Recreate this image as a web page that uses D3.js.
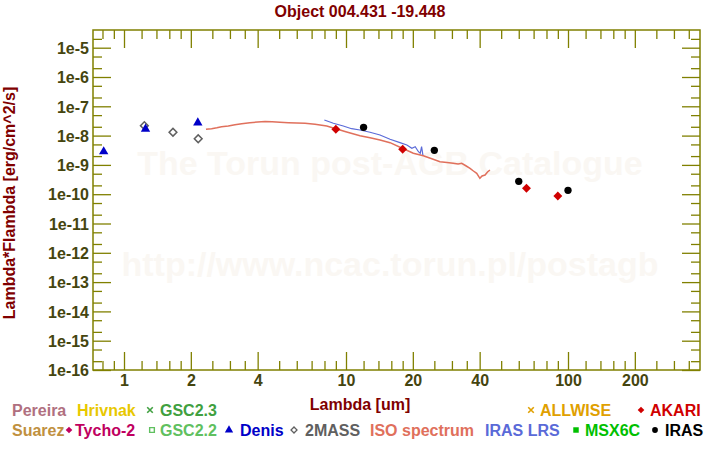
<!DOCTYPE html>
<html>
<head>
<meta charset="utf-8">
<script src="https://cdn.jsdelivr.net/npm/d3@7"></script>
<style>
  body { margin: 0; background: #fff; }
  text { font-family: "Liberation Sans", Arial, sans-serif; font-weight: bold; }
</style>
</head>
<body>
<div id="chart"></div>
<script>
// Data
// ==============================
var titleText = "Object 004.431 -19.448";

var xTickValues = [1, 2, 4, 10, 20, 40, 100, 200];
var xMinorMantissa = [1.2, 1.4, 1.6, 1.8, 2.5, 3, 3.5, 5, 6, 7, 8, 9];
var yTickValues = [1e-16, 1e-15, 1e-14, 1e-13, 1e-12, 1e-11, 1e-10, 1e-9, 1e-8, 1e-7, 1e-6, 1e-5];
var yTickLabels = ["1e-16", "1e-15", "1e-14", "1e-13", "1e-12", "1e-11", "1e-10", "1e-9", "1e-8", "1e-7", "1e-6", "1e-5"];
var yMinorMantissa = [2, 5];

// ISO spectrum (um, erg/cm^2/s)
var isoWave = [2.34, 2.48, 2.62, 2.75, 2.95, 3.16, 3.39, 3.69, 4.0, 4.32, 4.65, 5.04, 5.50, 6.54, 7.25, 8.19, 8.92, 10.07,
               11.56, 12.83, 14.23, 15.79, 17.82, 20.1, 22.3, 24.7, 26.5, 28.5, 30.4, 32.0, 33.2, 34.8, 36.2, 37.5, 38.8,
               40.1, 41.0, 42.3, 43.4, 44.5];
var isoFlux = [1.64e-8, 1.72e-8, 1.86e-8, 2.01e-8, 2.13e-8, 2.36e-8, 2.55e-8, 2.75e-8, 2.9e-8, 3.0e-8, 2.95e-8, 2.84e-8,
               2.75e-8, 2.63e-8, 2.43e-8, 2.13e-8, 1.75e-8, 1.33e-8, 9.93e-9, 8.48e-9, 7.08e-9, 5.73e-9, 3.78e-9, 2.49e-9,
               2.06e-9, 1.55e-9, 1.29e-9, 1.21e-9, 1.13e-9, 1.07e-9, 1.13e-9, 9.17e-10, 7.66e-10, 6.19e-10, 5.17e-10,
               3.49e-10, 4.18e-10, 4.52e-10, 5.72e-10, 6.70e-10];

// IRAS LRS spectrum
var lrsWave = [7.99, 8.77, 9.72, 10.6, 11.56, 12.83, 14.23, 15.79, 17.5, 18.8, 19.8, 20.5, 21.2, 21.6, 21.9, 22.2];
var lrsFlux = [3.40e-8, 2.63e-8, 2.13e-8, 1.72e-8, 1.55e-8, 1.30e-8, 1.05e-8, 7.48e-9, 5.73e-9, 4.78e-9, 3.69e-9,
               4.18e-9, 2.82e-9, 2.49e-9, 4.18e-9, 2.18e-9];

// photometry
var denisWave = [0.81, 1.25, 2.15];
var denisFlux = [2.85e-9, 1.68e-8, 2.75e-8];
var tmassWave = [1.235, 1.662, 2.159];
var tmassFlux = [2.18e-8, 1.30e-8, 7.83e-9];
var akariWave = [9, 18, 65, 90];
var akariFlux = [1.64e-8, 3.41e-9, 1.59e-10, 8.68e-11];
var irasWave = [12, 25, 60, 100];
var irasFlux = [1.92e-8, 3.15e-9, 2.75e-10, 1.36e-10];

// legend entries
var legendNames = ["Pereira", "Hrivnak", "GSC2.3", "ALLWISE", "AKARI",
                   "Suarez", "Tycho-2", "GSC2.2", "Denis", "2MASS", "ISO spectrum", "IRAS LRS", "MSX6C", "IRAS"];

// Layout
// ==============================
var svgWidth = 720, svgHeight = 450;
var plot = { left: 93, right: 700, top: 30, bottom: 370 };

var olive = "#808000";
var tickText = "#45450f";
var darkRed = "#800000";

var svg = d3.select("#chart").append("svg")
  .attr("width", svgWidth)
  .attr("height", svgHeight);

// scales: x(1) sits at 124px, one decade is 222px; y decade 29.3px with 1e-16 at the bottom
var xScale = d3.scaleLog()
  .domain([Math.pow(10, (plot.left - 124) / 222), Math.pow(10, (plot.right - 124) / 222)])
  .range([plot.left, plot.right]);
var yScale = d3.scaleLog()
  .domain([1e-16, Math.pow(10, -16 + (plot.bottom - plot.top) / 29.3)])
  .range([plot.bottom, plot.top]);

// watermark
svg.append("text")
  .attr("x", 390).attr("y", 175)
  .attr("text-anchor", "middle")
  .style("font-size", "34px")
  .style("fill", "#faf7f3")
  .text("The Torun post-AGB Catalogue");
svg.append("text")
  .attr("x", 390).attr("y", 276)
  .attr("text-anchor", "middle")
  .style("font-size", "34px")
  .style("fill", "#faf7f3")
  .text("http://www.ncac.torun.pl/postagb");

// minor tick values
var xDom = xScale.domain();
var xMinor = [];
[0.1, 1, 10, 100].forEach(function(dec) {
  xMinorMantissa.forEach(function(m) {
    var v = m * dec;
    if (v > xDom[0] && v < xDom[1]) xMinor.push(v);
  });
});
var yDom = yScale.domain();
var yMinor = [];
yTickValues.forEach(function(dec) {
  yMinorMantissa.forEach(function(m) {
    var v = m * dec;
    if (v > yDom[0] && v < yDom[1]) yMinor.push(v);
  });
});

// axes with inward ticks on all four sides
function addAxis(axis, tx, ty) {
  var g = svg.append("g")
    .attr("transform", "translate(" + tx + "," + ty + ")")
    .call(axis);
  g.select(".domain").remove();
  g.selectAll("line").attr("stroke", olive).attr("stroke-width", 1.3);
  g.selectAll("text")
    .style("font-size", "16px")
    .style("font-family", "'Liberation Sans', Arial, sans-serif")
    .style("font-weight", "bold")
    .attr("fill", tickText);
  return g;
}

addAxis(d3.axisBottom(xScale).tickValues(xTickValues).tickSizeInner(-18).tickSizeOuter(0)
  .tickPadding(5).tickFormat(d3.format("d")), 0, plot.bottom);
addAxis(d3.axisBottom(xScale).tickValues(xMinor).tickSizeInner(-9).tickSizeOuter(0).tickFormat(""), 0, plot.bottom);
addAxis(d3.axisTop(xScale).tickValues(xTickValues).tickSizeInner(-18).tickSizeOuter(0).tickFormat(""), 0, plot.top);
addAxis(d3.axisTop(xScale).tickValues(xMinor).tickSizeInner(-9).tickSizeOuter(0).tickFormat(""), 0, plot.top);

addAxis(d3.axisLeft(yScale).tickValues(yTickValues).tickSizeInner(-18).tickSizeOuter(0)
  .tickPadding(4).tickFormat(function(d, i) { return yTickLabels[i]; }), plot.left, 0)
  .selectAll("text").attr("dy", "0.36em");
addAxis(d3.axisLeft(yScale).tickValues(yMinor).tickSizeInner(-9).tickSizeOuter(0).tickFormat(""), plot.left, 0);
addAxis(d3.axisRight(yScale).tickValues(yTickValues).tickSizeInner(-18).tickSizeOuter(0).tickFormat(""), plot.right, 0);
addAxis(d3.axisRight(yScale).tickValues(yMinor).tickSizeInner(-9).tickSizeOuter(0).tickFormat(""), plot.right, 0);

// frame
svg.append("rect")
  .attr("x", plot.left).attr("y", plot.top)
  .attr("width", plot.right - plot.left).attr("height", plot.bottom - plot.top)
  .attr("fill", "none")
  .attr("stroke", olive)
  .attr("stroke-width", 1.5);

// spectra
var iso = isoWave.map(function(w, i) { return [w, isoFlux[i]]; });
var lrs = lrsWave.map(function(w, i) { return [w, lrsFlux[i]]; });
var line = d3.line()
  .x(function(d) { return xScale(d[0]); })
  .y(function(d) { return yScale(d[1]); });

svg.append("path").datum(iso)
  .attr("d", line)
  .attr("fill", "none")
  .attr("stroke", "#e0705c")
  .attr("stroke-width", 1.5);
svg.append("path").datum(lrs)
  .attr("d", line)
  .attr("fill", "none")
  .attr("stroke", "#5a6ad8")
  .attr("stroke-width", 1.2);

// photometry markers
function addPoints(waves, fluxes, symbol, size, fill, stroke, rot) {
  svg.append("g").selectAll("path")
    .data(waves.map(function(w, i) { return [w, fluxes[i]]; }))
    .enter()
    .append("path")
    .attr("d", d3.symbol().type(symbol).size(size))
    .attr("transform", function(d) {
      return "translate(" + xScale(d[0]) + "," + yScale(d[1]) + ")" + (rot ? " rotate(45)" : "");
    })
    .attr("fill", fill)
    .attr("stroke", stroke)
    .attr("stroke-width", stroke === "none" ? 0 : 1.5);
}

addPoints(tmassWave, tmassFlux, d3.symbolSquare, 30, "none", "#606060", true);
addPoints(denisWave, denisFlux, d3.symbolTriangle, 38, "#0000c8", "none", false);
addPoints(akariWave, akariFlux, d3.symbolSquare, 40, "#d00000", "none", true);
addPoints(irasWave, irasFlux, d3.symbolCircle, 42, "#000000", "none", false);

// titles
svg.append("text")
  .attr("x", 360).attr("y", 17)
  .attr("text-anchor", "middle")
  .style("font-size", "16px")
  .style("fill", darkRed)
  .text(titleText);

svg.append("text")
  .attr("x", 360).attr("y", 410)
  .attr("text-anchor", "middle")
  .style("font-size", "16px")
  .style("fill", darkRed)
  .text("Lambda [um]");

svg.append("text")
  .attr("transform", "translate(15, 203) rotate(-90)")
  .attr("text-anchor", "middle")
  .style("font-size", "16px")
  .style("fill", darkRed)
  .text("Lambda*Flambda [erg/cm^2/s]");

// legend
var legendLayout = [
  { color: "#b07080", tx: 12,  row: 0 },
  { color: "#e8c800", tx: 77,  row: 0 },
  { color: "#40a040", tx: 160, row: 0, sym: "x",  sx: 150 },
  { color: "#e0a000", tx: 540, row: 0, sym: "x",  sx: 531 },
  { color: "#d00000", tx: 650, row: 0, sym: "dfill", sx: 641 },
  { color: "#c09040", tx: 12,  row: 1 },
  { color: "#c00060", tx: 75,  row: 1, sym: "dfill", sx: 69 },
  { color: "#60c060", tx: 160, row: 1, sym: "sopen", sx: 152 },
  { color: "#0000c8", tx: 240, row: 1, sym: "tri", sx: 229 },
  { color: "#606060", tx: 305, row: 1, sym: "dopen", sx: 294 },
  { color: "#e0705c", tx: 370, row: 1 },
  { color: "#5a6ad8", tx: 485, row: 1 },
  { color: "#00c000", tx: 585, row: 1, sym: "sfill", sx: 576 },
  { color: "#000000", tx: 665, row: 1, sym: "dot", sx: 655 }
];
var rowBase = [416, 436];

legendLayout.forEach(function(l, i) {
  var cy = rowBase[l.row] - 6;
  svg.append("text")
    .attr("x", l.tx).attr("y", rowBase[l.row])
    .style("font-size", "16px")
    .style("fill", l.color)
    .text(legendNames[i]);
  if (!l.sym) return;
  var g = svg.append("g").attr("transform", "translate(" + l.sx + "," + cy + ")");
  if (l.sym === "x") {
    g.append("path").attr("d", d3.symbol().type(d3.symbolTimes).size(22))
      .attr("fill", "none").attr("stroke", l.color).attr("stroke-width", 1.6);
  } else if (l.sym === "dfill") {
    g.append("path").attr("d", d3.symbol().type(d3.symbolSquare).size(22)).attr("transform", "rotate(45)")
      .attr("fill", l.color);
  } else if (l.sym === "dopen") {
    g.append("path").attr("d", d3.symbol().type(d3.symbolSquare).size(18)).attr("transform", "rotate(45)")
      .attr("fill", "none").attr("stroke", l.color).attr("stroke-width", 1.3);
  } else if (l.sym === "sopen") {
    g.append("path").attr("d", d3.symbol().type(d3.symbolSquare).size(22))
      .attr("fill", "none").attr("stroke", l.color).attr("stroke-width", 1.4);
  } else if (l.sym === "sfill") {
    g.append("path").attr("d", d3.symbol().type(d3.symbolSquare).size(30)).attr("fill", l.color);
  } else if (l.sym === "tri") {
    g.append("path").attr("d", d3.symbol().type(d3.symbolTriangle).size(30)).attr("fill", l.color);
  } else if (l.sym === "dot") {
    g.append("path").attr("d", d3.symbol().type(d3.symbolCircle).size(26)).attr("fill", l.color);
  }
});
</script>
</body>
</html>
